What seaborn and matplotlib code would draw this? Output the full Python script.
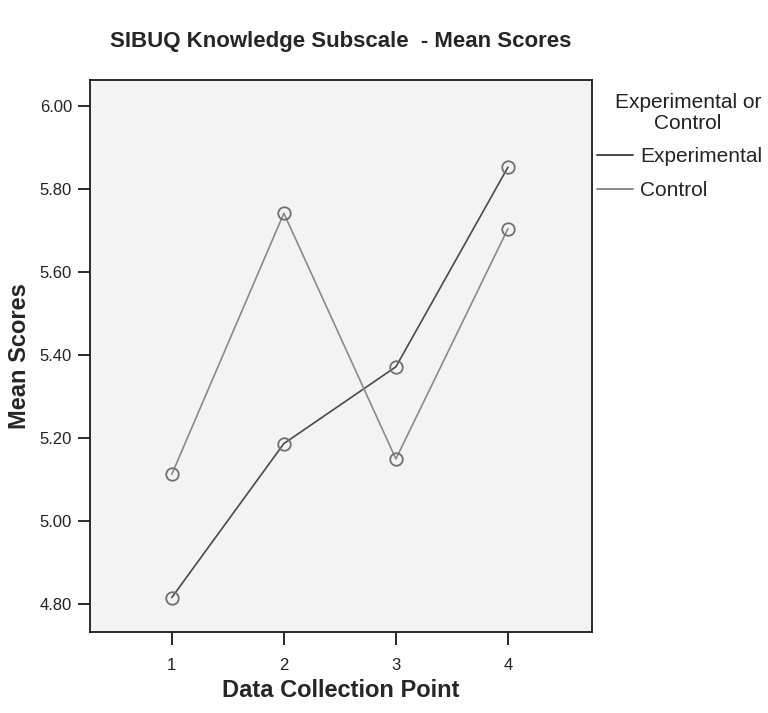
import matplotlib
matplotlib.use("Agg")
import matplotlib.pyplot as plt
from matplotlib.lines import Line2D
import seaborn as sns
import pandas as pd

points = [1, 2, 3, 4]
experimental = [4.816, 5.187, 5.372, 5.853]
control = [5.113, 5.742, 5.150, 5.705]
groups = ["Experimental", "Control"]
ytick_vals = [4.80, 5.00, 5.20, 5.40, 5.60, 5.80, 6.00]

df = pd.DataFrame({
    "Data Collection Point": points * 2,
    "Mean Scores": experimental + control,
    "Group": [groups[0]] * 4 + [groups[1]] * 4,
})

sns.set_theme(style="ticks")
plt.rcParams["font.family"] = ["Liberation Sans", "DejaVu Sans"]

fig = plt.figure(figsize=(7.68, 7.13), dpi=100)
ax = fig.add_axes([90 / 768, 1 - 632 / 713, (592 - 90) / 768, (632 - 80) / 713])
ax.set_facecolor("#f3f3f3")

palette = {"Experimental": "#4a4a4a", "Control": "#8a8a8a"}
sns.lineplot(data=df, x="Data Collection Point", y="Mean Scores", hue="Group",
             palette=palette, marker="o", markersize=9, markerfacecolor="none",
             markeredgecolor="#707070", markeredgewidth=1.3, linewidth=1.2,
             ax=ax, legend=False)

ax.set_xlim(0.27, 4.75)
ax.set_ylim(4.733, 6.063)
ax.set_xticks(points)
ax.set_xticklabels([str(p) for p in points])
ax.set_yticks(ytick_vals)
ax.set_yticklabels([f"{v:.2f}" for v in ytick_vals])
for s in ax.spines.values():
    s.set_visible(True)
    s.set_color("#1a1a1a")
    s.set_linewidth(1.3)
ax.tick_params(axis="both", direction="out", length=9, width=1.3, color="#1a1a1a",
               labelsize=12, labelcolor="#222222")
ax.tick_params(axis="y", pad=4)
ax.tick_params(axis="x", pad=10)

ax.set_xlabel("Data Collection Point", fontsize=17, fontweight="bold", labelpad=4)
ax.set_ylabel("Mean Scores", fontsize=17, fontweight="bold", labelpad=6)
fig.text((90 + 592) / 2 / 768, 1 - 41 / 713, "SIBUQ Knowledge Subscale  - Mean Scores",
         ha="center", va="center", fontsize=16, fontweight="bold")

# legend title drawn as separate centered text
fig.text(688 / 768, 1 - 113 / 713, "Experimental or\nControl", ha="center", va="center",
         multialignment="center", fontsize=15, color="#222222", linespacing=1.1)

handles = [Line2D([0], [0], color=palette[g], lw=1.4) for g in groups]
leg = fig.legend(handles, groups, loc="upper left",
                 bbox_to_anchor=(597 / 768, 1 - 147 / 713),
                 frameon=False, fontsize=15,
                 handlelength=1.73, handletextpad=0.34, labelspacing=0.72,
                 borderaxespad=0, borderpad=0)

fig.savefig("out.png", dpi=100)
